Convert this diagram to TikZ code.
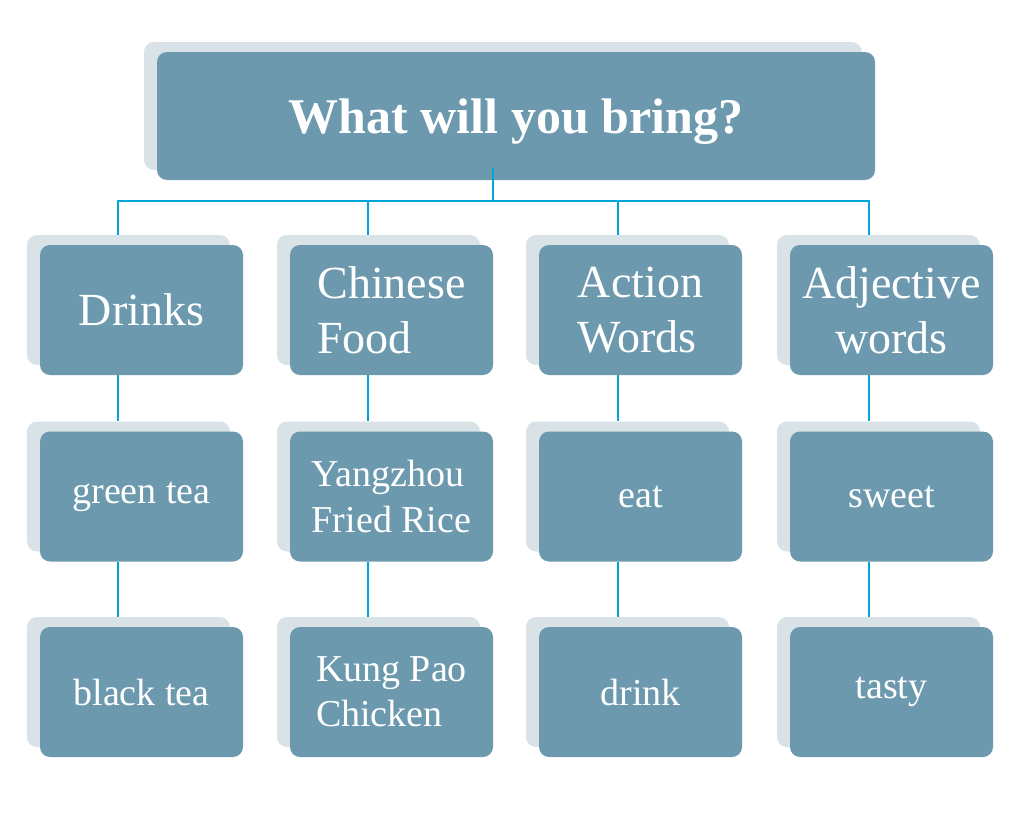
\documentclass[tikz,border=0pt]{standalone}
\usepackage{fontspec}
\setmainfont{Liberation Serif}
\usetikzlibrary{shadows}

\definecolor{boxblue}{RGB}{108,153,174}
\definecolor{boxshade}{RGB}{216,226,231}
\definecolor{linkblue}{RGB}{0,166,218}

\tikzset{
  box/.style={fill=boxblue, text=white, rounded corners=7.5pt, inner sep=0pt,
    minimum width=152.25pt, minimum height=97.5pt,
    copy shadow={shadow xshift=-9.75pt, shadow yshift=7.5pt, fill=boxshade, draw=none, opacity=1}},
  catbox/.style={box, font=\fontsize{34.5}{41}\selectfont},
  itembox/.style={box, font=\fontsize{28.5}{34}\selectfont},
  link/.style={draw=linkblue, line width=2.2pt}
}

\begin{document}
\begin{tikzpicture}[x=0.75pt, y=-0.75pt]
    \useasboundingbox (0,0) rectangle (1018,828);
    \node[box, minimum width=538.5pt, minimum height=96pt, text depth=0pt, font=\bfseries\fontsize{37.5}{45}\selectfont] (top) at (516,116) {What will you bring?};
    % categories
    \node[catbox] (drinks) at (141.5,310) {Drinks};
    \node[catbox, align=left] (food) at (391.5,310) {Chinese\\Food};
    \node[catbox, align=left] (action) at (640.5,310) {Action\\Words};
    \node[catbox, align=center] (adj) at (891.5,310) {Adjective\\words};
    % second row
    \node[itembox] (green) at (141.5,496.5) {green tea};
    \node[itembox, align=left] (rice) at (391.5,496.5) {Yangzhou\\Fried Rice};
    \node[itembox] (eat) at (640.5,496.5) {eat};
    \node[itembox] (sweet) at (891.5,496.5) {sweet};
    % third row
    \node[itembox] (black) at (141.5,692) {black tea};
    \node[itembox, align=left] (kungpao) at (391.5,692) {Kung Pao\\Chicken};
    \node[itembox] (drink) at (640.5,692) {drink};
    \node[itembox] (tasty) at (891.5,692) {tasty};
    % bus
    \coordinate (hub) at (493,201);
    \coordinate (c1) at (118,201);
    \coordinate (c2) at (368,201);
    \coordinate (c3) at (618,201);
    \coordinate (c4) at (869,201);
    \draw[link] ([yshift=9pt]top.south -| hub) -- (hub);
    \draw[link] ([yshift=7.5pt]drinks.north -| c1) -- (c1) -- (c4) -- ([yshift=7.5pt]adj.north -| c4);
    \draw[link] (c2) -- ([yshift=7.5pt]food.north -| c2);
    \draw[link] (c3) -- ([yshift=7.5pt]action.north -| c3);
    % columns
    \foreach \c/\a/\b/\d in {c1/drinks/green/black, c2/food/rice/kungpao, c3/action/eat/drink, c4/adj/sweet/tasty}{
        \draw[link] (\a.south -| \c) -- ([yshift=7.5pt]\b.north -| \c);
        \draw[link] (\b.south -| \c) -- ([yshift=7.5pt]\d.north -| \c);
    }
\end{tikzpicture}
\end{document}
